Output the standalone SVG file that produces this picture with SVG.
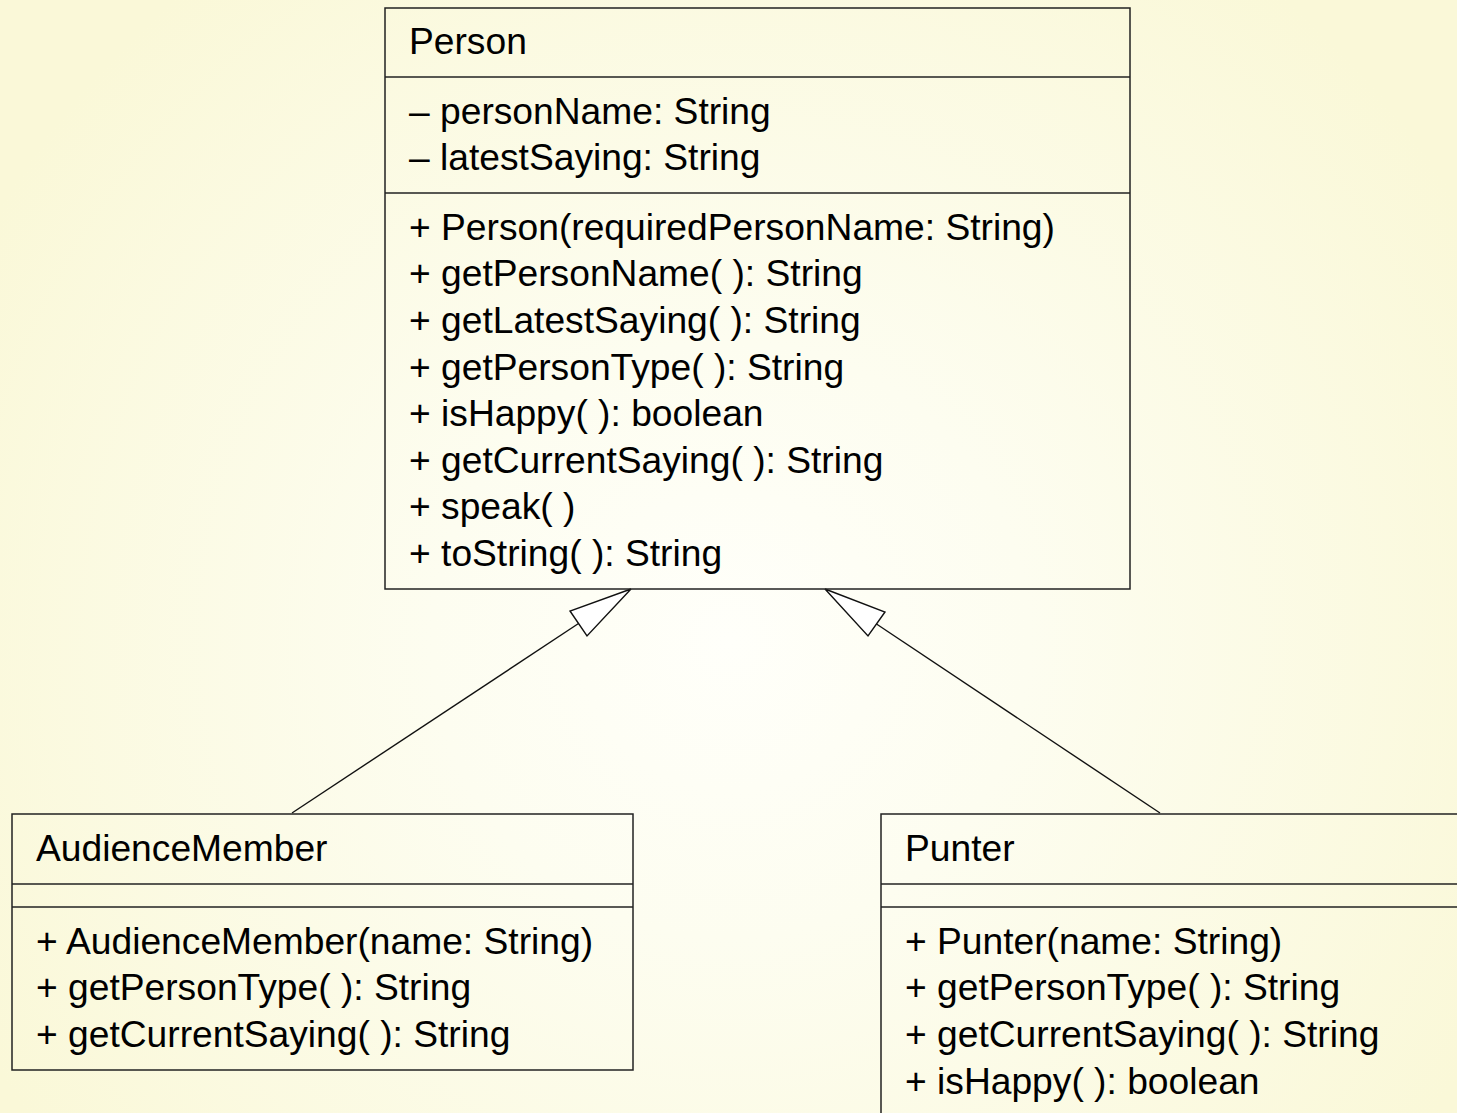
<svg xmlns="http://www.w3.org/2000/svg" width="1457" height="1113" viewBox="0 0 1457 1113">
  <defs>
    <radialGradient id="bg" cx="730" cy="640" r="850" gradientUnits="userSpaceOnUse">
      <stop offset="0" stop-color="#FFFFFA"/>
      <stop offset="0.35" stop-color="#FDFDF0"/>
      <stop offset="1" stop-color="#FAF8D8"/>
    </radialGradient>
    <style>
      .box { fill: none; stroke: #222; stroke-width: 1.5; }
      .div { stroke: #222; stroke-width: 1.5; }
      .t { font-family: "Liberation Sans", Arial, sans-serif; font-size: 37.2px; fill: #000; }
      .edge { stroke: #111; stroke-width: 1.4; fill: none; }
      .head { fill: #fff; stroke: #111; stroke-width: 1.4; stroke-linejoin: miter; }
    </style>
  </defs>
  <rect x="0" y="0" width="1457" height="1113" fill="url(#bg)"/>

  <g id="connectors">
    <line class="edge" x1="292" y1="813" x2="578.5" y2="623.5"/>
    <polygon class="head" points="631,589 570,611 587,636"/>
    <line class="edge" x1="1160" y1="813" x2="876.5" y2="624"/>
    <polygon class="head" points="825,589 885,612 868,636"/>
  </g>

  <g id="Person">
    <rect class="box" x="385" y="8" width="745" height="581"/>
    <line class="div" x1="385" y1="77" x2="1130" y2="77"/>
    <line class="div" x1="385" y1="193" x2="1130" y2="193"/>
    <text class="t" x="409" y="54">Person</text>
    <text class="t" x="409" y="124">– personName: String</text>
    <text class="t" x="409" y="170">– latestSaying: String</text>
    <text class="t" x="409" y="240">+ Person(requiredPersonName: String)</text>
    <text class="t" x="409" y="286">+ getPersonName( ): String</text>
    <text class="t" x="409" y="333">+ getLatestSaying( ): String</text>
    <text class="t" x="409" y="380">+ getPersonType( ): String</text>
    <text class="t" x="409" y="426">+ isHappy( ): boolean</text>
    <text class="t" x="409" y="473">+ getCurrentSaying( ): String</text>
    <text class="t" x="409" y="519">+ speak( )</text>
    <text class="t" x="409" y="566">+ toString( ): String</text>
  </g>

  <g id="AudienceMember">
    <rect class="box" x="12" y="814" width="621" height="256"/>
    <line class="div" x1="12" y1="884" x2="633" y2="884"/>
    <line class="div" x1="12" y1="907" x2="633" y2="907"/>
    <text class="t" x="36" y="861">AudienceMember</text>
    <text class="t" x="36" y="954">+ AudienceMember(name: String)</text>
    <text class="t" x="36" y="1000">+ getPersonType( ): String</text>
    <text class="t" x="36" y="1047">+ getCurrentSaying( ): String</text>
  </g>

  <g id="Punter">
    <rect class="box" x="881" y="814" width="600" height="320"/>
    <line class="div" x1="881" y1="884" x2="1457" y2="884"/>
    <line class="div" x1="881" y1="907" x2="1457" y2="907"/>
    <text class="t" x="905" y="861">Punter</text>
    <text class="t" x="905" y="954">+ Punter(name: String)</text>
    <text class="t" x="905" y="1000">+ getPersonType( ): String</text>
    <text class="t" x="905" y="1047">+ getCurrentSaying( ): String</text>
    <text class="t" x="905" y="1094">+ isHappy( ): boolean</text>
  </g>
</svg>
